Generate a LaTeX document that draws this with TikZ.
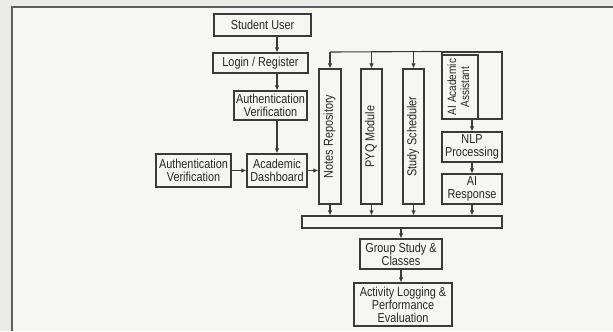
\documentclass[tikz,border=0pt]{standalone}
\usepackage{fontspec}
\setmainfont{Liberation Sans}[FakeStretch=0.84]
\usepackage{graphicx}
\usetikzlibrary{arrows.meta,positioning,calc}
\definecolor{flowInk}{HTML}{262626}
\definecolor{flowLine}{HTML}{3A3A3A}
\definecolor{pageBg}{HTML}{F6F6F2}
\definecolor{pageEdge}{HTML}{EAEAE6}
\definecolor{frameGray}{HTML}{5E5E5E}

\newcommand{\vlabel}[1]{\rotatebox{90}{\begin{tabular}{@{}c@{}}#1\end{tabular}}}

\begin{document}
\begin{tikzpicture}[
  x=1bp, y=-1bp,
  font=\fontsize{13}{13}\selectfont,
  >=Latex,
  box/.style={
    draw=flowLine, fill=pageBg, line width=1.1bp,
    inner sep=0.5bp, align=center, text=flowInk
  },
  arr/.style={-{Latex[length=5bp,width=4.5bp]}, line width=1.1bp, draw=flowLine},
  wire/.style={line width=1.1bp, draw=flowLine}
]

% Page and frame
\fill[pageEdge] (0,0) rectangle (613,331);
\useasboundingbox (0,0) rectangle (613,331);
\fill[pageBg] (12,7) rectangle (613,331);
\draw[frameGray, line width=1.5bp] (12,331) -- (12,7) -- (613,7);

% Entry column
\node[box, minimum width=97bp, minimum height=22bp] (user) at (262.5,25) {Student User};
\node[box, minimum width=95bp, minimum height=20bp] (login) at (260.5,63) {Login / Register};
\node[box, minimum width=73bp, minimum height=29bp] (auth) at (270.5,105.5) {Authentication\\Verification};
\node[box, minimum width=60bp, minimum height=33bp] (dash) at (277,170.5) {Academic\\Dashboard};
\node[box, minimum width=75bp, minimum height=33bp] (authside) at (193.5,170.5) {Authentication\\Verification};

% Module columns
\node[box, minimum width=22bp, minimum height=135bp] (notes) at (330,136.5) {\vlabel{Notes Repository}};
\node[box, minimum width=21bp, minimum height=135bp] (pyq) at (371.5,136.5) {\vlabel{PYQ Module}};
\node[box, minimum width=21bp, minimum height=135bp] (sched) at (413.5,136.5) {\vlabel{Study Scheduler}};

% AI branch
\node[box, minimum width=60bp, minimum height=67bp] (aiframe) at (472,85.5) {};
\node[box, minimum width=36bp, minimum height=64bp, font=\fontsize{12}{13}\selectfont] (ai) at (460,87) {\vlabel{AI Academic\\Assistant}};
\node[box, minimum width=60bp, minimum height=30bp] (nlp) at (472,147) {NLP\\Processing};
\node[box, minimum width=60bp, minimum height=30bp] (resp) at (472,189) {AI\\Response};

% Merge bar and outcome
\node[box, minimum width=200bp, minimum height=12bp] (bar) at (402,222) {};
\node[box, minimum width=82bp, minimum height=30bp] (group) at (401,254) {Group Study \&\\Classes};
\node[box, minimum width=98bp, minimum height=43bp] (logging) at (403,304.5) {Activity Logging \&\\Performance\\Evaluation};

% Entry flow
\draw[arr] (user.south -| dash) -- (login.north -| dash);
\draw[arr] (login.south -| dash) -- (auth.north -| dash);
\draw[arr] (auth.south -| dash) -- (dash.north);
\draw[arr] (authside.east) -- (dash.west);
\draw[arr] (dash.east) -- (dash.east -| notes.west);

% Distribution bus
\coordinate (bus) at (330,52);
\draw[wire] (aiframe.north west) -- (bus);
\draw[arr] (bus) -- (notes.north);
\draw[arr] (bus -| pyq) -- (pyq.north);
\draw[arr] (bus -| sched) -- (sched.north);

% AI chain
\draw[arr] (ai.south -| nlp) -- (nlp.north);
\draw[arr] (nlp.south) -- (resp.north);

% Into the merge bar
\draw[arr] (notes.south) -- (notes.south |- bar.north);
\draw[arr] (pyq.south) -- (pyq.south |- bar.north);
\draw[arr] (sched.south) -- (sched.south |- bar.north);
\draw[arr] (resp.south) -- (resp.south |- bar.north);

% Outcome
\draw[arr] (bar.south -| group) -- (group.north);
\draw[arr] (group.south) -- (group.south |- logging.north);

\end{tikzpicture}
\end{document}
